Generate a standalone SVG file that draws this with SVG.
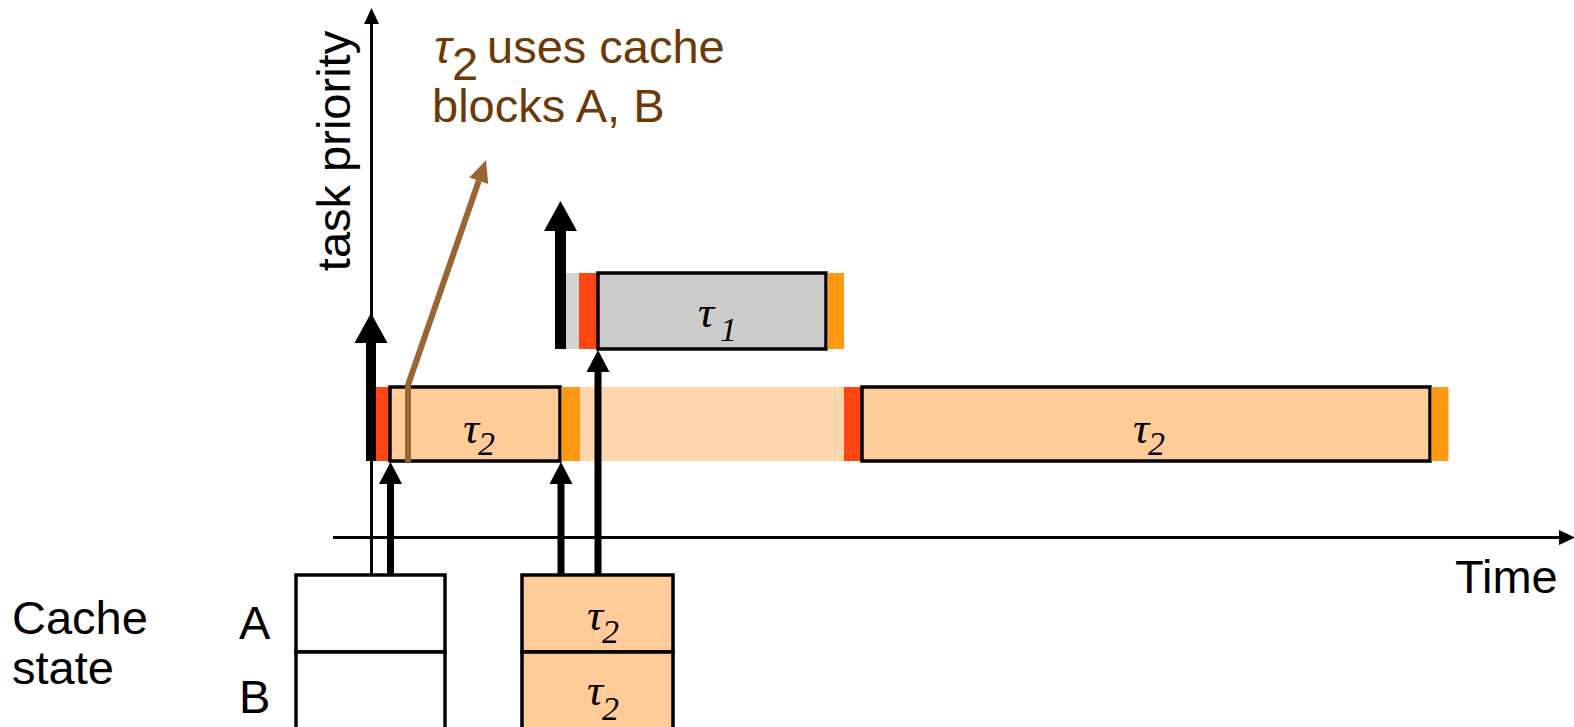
<svg xmlns="http://www.w3.org/2000/svg" width="1574" height="727" viewBox="0 0 1574 727">
<style>
.sans{font-family:"Liberation Sans",Arial,sans-serif;font-size:47px;fill:#000}
.note{font-family:"Liberation Sans",Arial,sans-serif;font-size:47px;fill:#6B3A08}
.tau{font-family:"Liberation Serif","Times New Roman",serif;font-style:italic;font-size:45px;fill:#000}
.sub{font-size:34px}
.box{stroke:#000;stroke-width:3.5}
.peach{fill:#FFCC99}
.pale{fill:#FFD6AC}
.grey{fill:#CCCCCC}
.red{fill:#FF4513}
.orange{fill:#FF9914}
.thin{stroke:#000;stroke-width:3;fill:none}
</style>
<defs>
<marker id="hAxis" markerUnits="userSpaceOnUse" orient="auto" refX="0" refY="0" markerWidth="20" markerHeight="20" viewBox="0 -10 20 20" overflow="visible"><path d="M0,-7.5 L16,0 L0,7.5 z" fill="#000"/></marker>
<marker id="hBig" markerUnits="userSpaceOnUse" orient="auto" refX="0" refY="0" markerWidth="34" markerHeight="34" viewBox="0 -17 34 34" overflow="visible"><path d="M0,-16.5 L30,0 L0,16.5 z" fill="#000"/></marker>
<marker id="hMed" markerUnits="userSpaceOnUse" orient="auto" refX="0" refY="0" markerWidth="24" markerHeight="24" viewBox="0 -12 24 24" overflow="visible"><path d="M0,-11.5 L22,0 L0,11.5 z" fill="#000"/></marker>
<marker id="hBrown" markerUnits="userSpaceOnUse" orient="auto" refX="0" refY="0" markerWidth="24" markerHeight="24" viewBox="0 -12 24 24" overflow="visible"><path d="M0,-10 L22,0 L0,10 z" fill="#996633"/></marker>
</defs>

<!-- task bars -->
<g id="tau2-bar1">
<rect class="red" x="376" y="387" width="14" height="74"/>
<rect class="peach box" x="390" y="387" width="170" height="74"/>
<rect class="orange" x="561.5" y="387" width="18.5" height="74"/>
<text class="tau" x="463" y="443">τ<tspan class="sub" x="478" y="455">2</tspan></text>
</g>
<g id="preempted-band">
<rect class="pale" x="580" y="387" width="264" height="74"/>
</g>
<g id="tau2-bar2">
<rect class="red" x="844" y="387" width="18" height="74"/>
<rect class="peach box" x="862" y="387" width="568" height="74"/>
<rect class="orange" x="1431.5" y="387" width="17" height="74"/>
<text class="tau" x="1133" y="443">τ<tspan class="sub" x="1148" y="455">2</tspan></text>
</g>
<g id="tau1-bar">
<rect fill="#D3D3D3" x="563" y="273" width="16" height="76"/>
<rect class="red" x="579" y="273" width="19" height="76"/>
<rect class="grey box" x="598" y="273" width="228" height="76"/>
<rect class="orange" x="827.5" y="273" width="16.5" height="76"/>
<text class="tau" x="698" y="327">τ<tspan class="sub" x="720" y="341">1</tspan></text>
</g>

<!-- cache state -->
<g id="cache-labels">
<text class="sans" x="12" y="634">Cache</text>
<text class="sans" x="12" y="684">state</text>
<text class="sans" x="239" y="639">A</text>
<text class="sans" x="239" y="713">B</text>
</g>
<g id="cache-empty">
<rect class="box" fill="#fff" x="296" y="575" width="149" height="77"/>
<rect class="box" fill="#fff" x="296" y="652" width="149" height="90"/>
</g>
<g id="cache-tau2">
<rect class="box peach" x="522" y="575" width="151" height="77"/>
<rect class="box peach" x="522" y="652" width="151" height="90"/>
<text class="tau" x="587" y="630">τ<tspan class="sub" x="602" y="643">2</tspan></text>
<text class="tau" x="587" y="705">τ<tspan class="sub" x="602" y="720">2</tspan></text>
</g>

<!-- axes and connectors -->
<g id="connectors">
<line class="thin" x1="371.5" y1="575" x2="371.5" y2="24" marker-end="url(#hAxis)"/>
<line class="thin" x1="333" y1="537.5" x2="1559" y2="537.5" marker-end="url(#hAxis)"/>
<line stroke="#000" stroke-width="10" x1="371" y1="461" x2="371" y2="343" marker-end="url(#hBig)"/>
<line stroke="#000" stroke-width="11" x1="560.5" y1="349" x2="560.5" y2="231" marker-end="url(#hBig)"/>
<line stroke="#000" stroke-width="7" x1="390.5" y1="575" x2="390.5" y2="484" marker-end="url(#hMed)"/>
<line stroke="#000" stroke-width="7" x1="561" y1="575" x2="561" y2="484" marker-end="url(#hMed)"/>
<line stroke="#000" stroke-width="7" x1="598" y1="575" x2="598" y2="372" marker-end="url(#hMed)"/>
<polyline fill="none" stroke="#996633" stroke-width="6" points="408,462 408,385 478.8,180.8" marker-end="url(#hBrown)"/>
</g>

<g id="axis-labels">
<text class="sans" transform="translate(350,151) rotate(-90)" text-anchor="middle">task priority</text>
<text class="sans" x="1455" y="593">Time</text>
</g>
<g id="annotation">
<text class="note" x="434" y="63" font-family="Liberation Serif,serif" font-style="italic" font-size="46">τ</text>
<text class="note" x="452" y="80" font-size="32">2</text>
<text class="note" x="487" y="63">uses cache</text>
<text class="note" x="432" y="122">blocks A, B</text>
</g>
</svg>
